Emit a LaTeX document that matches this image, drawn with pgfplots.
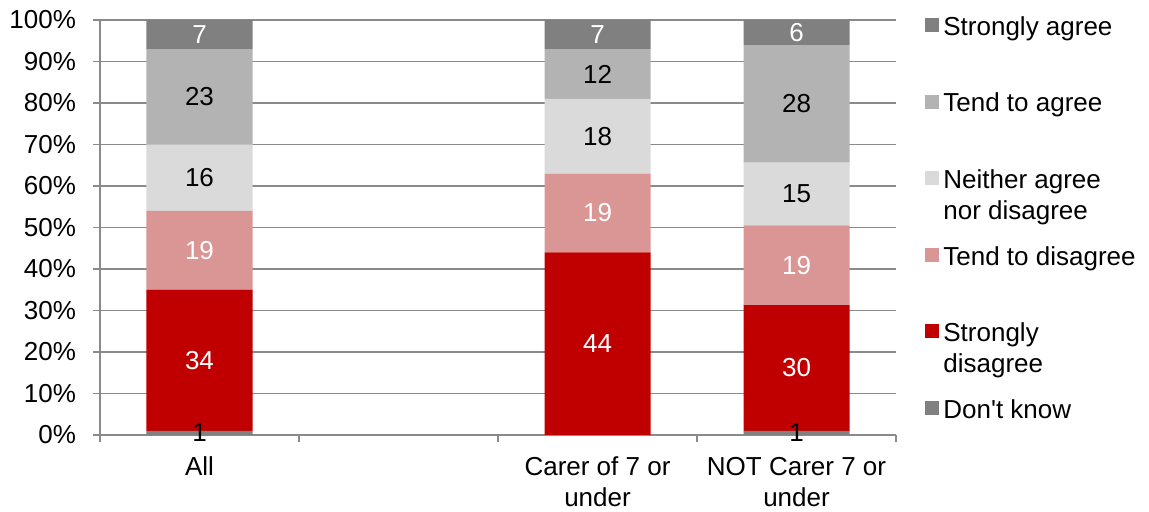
\documentclass[border=0pt]{standalone}
\usepackage{fontspec}
\setmainfont{Liberation Sans}
\usepackage{pgfplots}
\usepackage{pgfplotstable}
\pgfplotsset{compat=1.18}

\definecolor{cSA}{HTML}{808080}
\definecolor{cTA}{HTML}{B3B3B3}
\definecolor{cNA}{HTML}{DADADA}
\definecolor{cTD}{HTML}{D99694}
\definecolor{cSD}{HTML}{C00000}
\definecolor{cDK}{HTML}{808080}
\definecolor{gridgrey}{HTML}{8A8A8A}

% Shares (per cent) by group: 0 = All, 2 = Carer of 7 or under, 3 = NOT carer
\pgfplotstableread{
x  SD      TD      NA      TA      SA
0  34      19      16      23      7
2  44      19      18      12      7
3  30.303  19.192  15.152  28.283  6.059
}\shares

\pgfplotsset{
  % segment label, value taken from the table column
  seg/.style={
    visualization depends on=\thisrow{#1} \as \rawy,
    nodes near coords={\pgfmathprintnumber[fixed,precision=0]{\rawy}},
    every node near coord/.append style={anchor=center},
  },
  wlab/.style={every node near coord/.append style={text=white}},
  blab/.style={every node near coord/.append style={text=black}},
}

\begin{document}
\fontsize{13}{15.5}\selectfont
\begin{tikzpicture}[font=\fontsize{13}{15.5}\selectfont]
\path[use as bounding box] (-50pt,-38.5pt) rectangle (524.5pt,217.5pt);
\begin{axis}[
  at={(0,0)}, anchor=south west,
  scale only axis, width=398pt, height=207.5pt,
  ybar stacked, bar width=53pt,
  xmin=-0.5, xmax=3.5, ymin=0, ymax=100,
  xtick={0,1,2,3},
  xticklabels={All,{},{Carer of 7 or\\under},{NOT Carer 7 or\\under}},
  xticklabel style={align=center, yshift=-3pt},
  minor xtick={-0.5,0.5,1.5,2.5,3.5},
  major x tick style={draw=none},
  ytick={0,10,...,100},
  yticklabel={\pgfmathprintnumber{\tick}\%},
  yticklabel style={xshift=-4pt},
  /pgf/number format/assume math mode=true,
  tick align=outside, major tick length=3.5pt, minor tick length=3.5pt,
  tick style={gridgrey, line width=0.8pt},
  ymajorgrids, grid style={gridgrey, line width=0.8pt},
  axis lines*=left, axis line style={gridgrey, line width=0.8pt},
  reverse legend,
  legend cell align=left,
  legend style={at={(1.0364,0.518)}, anchor=west, draw=none, fill=none,
    inner sep=0pt, row sep=26pt, column sep=1pt,
    nodes={text height=9.5pt, text depth=2.8pt, inner ysep=0pt, inner xsep=1pt}},
  legend image code/.code={\fill[#1,draw=none] (0pt,-1.75pt) rectangle (7pt,5.25pt);},
]
% Don't know: none among carers, so its labels are given explicitly
\addplot[fill=cDK, draw=none, blab,
  nodes near coords={\pgfplotspointmeta}, point meta=explicit symbolic,
  every node near coord/.append style={anchor=center}]
  coordinates {(0,1) [1] (2,0) [{}] (3,1.0101) [1]};
\addlegendentry{Don\textquotesingle t know}
\addplot[fill=cSD, draw=none, seg=SD, wlab] table[x=x, y=SD] {\shares};
\addlegendentry{\smash{\begin{tabular}[t]{@{}l@{}}Strongly\\disagree\end{tabular}}}
\addplot[fill=cTD, draw=none, seg=TD, wlab] table[x=x, y=TD] {\shares};
\addlegendentry{Tend to disagree}
\addplot[fill=cNA, draw=none, seg=NA, blab] table[x=x, y=NA] {\shares};
\addlegendentry{\smash{\begin{tabular}[t]{@{}l@{}}Neither agree\\nor disagree\end{tabular}}}
\addplot[fill=cTA, draw=none, seg=TA, blab] table[x=x, y=TA] {\shares};
\addlegendentry{Tend to agree}
\addplot[fill=cSA, draw=none, seg=SA, wlab] table[x=x, y=SA] {\shares};
\addlegendentry{Strongly agree}
\end{axis}
\end{tikzpicture}
\end{document}
